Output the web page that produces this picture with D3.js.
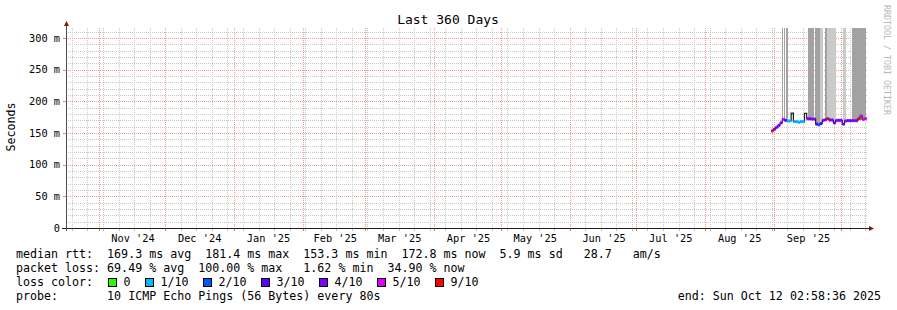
<!DOCTYPE html>
<html lang="en">
<head>
<meta charset="utf-8">
<title>Last 360 Days</title>
<script src="https://cdn.jsdelivr.net/npm/d3@7"></script>
<style>
  body { margin: 0; background: #fff; }
  svg text { font-family: "DejaVu Sans Mono", monospace; fill: #000; }
</style>
</head>
<body>
<svg id="chart" width="897" height="310"></svg>
<script>
// ---------------- data ----------------
// graph spans 360 days, aligned to the archive step; endTime is the printed end
var axisStart = "2024-10-17T19:00";
var axisEnd   = "2025-10-12T19:00";
var endTime   = "2025-10-12T02:58:36";

var yTicks      = [0, 50, 100, 150, 200, 250, 300];
var yTickLabels = ["0", "50 m", "100 m", "150 m", "200 m", "250 m", "300 m"];
var yMax = 315.8; // ms, upper limit of the graph

// month labels sit mid-month
var xLabelDates = ["2024-11-16", "2024-12-16", "2025-01-16", "2025-02-15", "2025-03-16",
                   "2025-04-16", "2025-05-16", "2025-06-16", "2025-07-16", "2025-08-16", "2025-09-16"];

// daily median rtt (ms) and loss (pings of 10)
var firstDay = "2025-08-30T16:00";
var medianMs = [153.3, 156, 159, 162, 166, 171.6, 170, 169, 169, 181.4,
                168, 168, 167, 168, 168, 181, 172.5, 172.5, 172, 172,
                164, 163, 165, 170, 171, 172.6, 170.5, 170.5, 166, 170,
                170, 170, 164, 169, 169.5, 169.5, 169.5, 169.5, 169.5, 172.6,
                177, 171.6, 172.8];
var lossTenths = [9, 4, 4, 4, 4, 5, 3, 1, 1, null,
                  1, 1, 1, 1, 1, null, 4, 4, 4, 4,
                  3, 2, 3, 4, 4, 9, 4, 4, 3, 4,
                  4, 4, 3, 4, 4, 4, 4, 4, 4, 9,
                  5, 5, 5];

// smoke (ping spread) periods, reaching past the top of the graph
var smokeStart = ["2025-09-04T13:00", "2025-09-05T11:00", "2025-09-06T08:00", "2025-09-16T06:00",
                  "2025-09-19T09:00", "2025-09-21T16:00", "2025-09-23T21:00", "2025-09-24T19:00",
                  "2025-10-02T00:00", "2025-10-06T01:00"];
var smokeEnd   = ["2025-09-05T00:00", "2025-09-05T21:00", "2025-09-07T06:00", "2025-09-18T23:00",
                  "2025-09-21T16:00", "2025-09-23T00:00", "2025-09-24T19:00", "2025-09-28T20:00",
                  "2025-10-03T08:00", "2025-10-12T09:00"];
var smokeLow   = [171, 171, 170, 172, 164, 168, 171, 170, 169, 170];
var smokeHigh  = [400, 400, 400, 400, 400, 400, 400, 400, 400, 400];
var smokeDepth = [6, 6, 6, 6, 6, 3, 6, 3, 3, 6]; // pings in the upper smoke

var lossLevels = [0, 1, 2, 3, 4, 5, 9];
var lossLabels = ["0", "1/10", "2/10", "3/10", "4/10", "5/10", "9/10"];
var lossColors = ["#26ff00", "#00b8ff", "#0059ff", "#5e00ff", "#7e00ff", "#dd00ff", "#ff0000"];

var legendRtt  = "median rtt:  169.3 ms avg  181.4 ms max  153.3 ms min  172.8 ms now  5.9 ms sd   28.7   am/s";
var legendLoss = "packet loss: 69.49 % avg  100.00 % max   1.62 % min  34.90 % now";
var probeText  = "10 ICMP Echo Pings (56 Bytes) every 80s";

// ---------------- chart ----------------
(function() {
var svg = d3.select("#chart");
var pLeft = 67, pRight = 867, pTop = 28, pBottom = 228;
var nb = function(s) { return s.replace(/ /g, "\u00a0"); }; // keep runs of spaces

var t0 = new Date(axisStart), t1 = new Date(axisEnd);
var x = d3.scaleTime().domain([t0, t1]).range([pLeft, pRight]);
var y = d3.scaleLinear().domain([0, yMax]).range([pBottom, pTop]);
var px = function(v) { return Math.round(v); };

var lossColor = d3.scaleThreshold().domain(lossLevels.slice(1)).range(lossColors);
var smokeColor = d3.scaleThreshold().domain([5]).range(["#cacaca", "#a2a2a2"]);

svg.append("rect").attr("width", 897).attr("height", 310).attr("fill", "#fff");

svg.append("clipPath").attr("id", "plot")
  .append("rect").attr("x", pLeft).attr("y", pTop).attr("width", pRight - pLeft).attr("height", pBottom - pTop);

// grid, drawn as rows of 1px dots
var months = d3.timeMonth.range(t0, t1);
var monthKeys = months.map(function(d) { return +d; });
var weeks = d3.timeSunday.range(t0, t1).filter(function(d) { return monthKeys.indexOf(+d) < 0; });
var minorY = d3.range(10, yMax, 10).filter(function(v) { return v % 50 !== 0; });
var minorCol = "#c8c8c8", majorCol = "#f39a9a";

var defs = svg.append("defs");
defs.append("pattern").attr("id", "vdots").attr("width", 1).attr("height", 2)
  .attr("patternUnits", "userSpaceOnUse")
  .append("rect").attr("width", 1).attr("height", 1).attr("fill", "#000");

function vGrid(data, col) {
  svg.append("g").selectAll("rect").data(data).enter().append("rect")
    .attr("x", function(d) { return px(x(d)); }).attr("y", pTop)
    .attr("width", 1).attr("height", pBottom - pTop)
    .attr("fill", col).attr("mask", "url(#vmask)");
}
function hGrid(data, col) {
  svg.append("g").selectAll("rect").data(data).enter().append("rect")
    .attr("x", pLeft).attr("y", function(d) { return px(y(d)); })
    .attr("width", pRight - pLeft).attr("height", 1)
    .attr("fill", col).attr("mask", "url(#hmask)");
}
// dotted masks (1 on, 1 off)
var vm = defs.append("mask").attr("id", "vmask").attr("maskUnits", "userSpaceOnUse")
  .attr("x", 0).attr("y", 0).attr("width", 897).attr("height", 310);
var hm = defs.append("mask").attr("id", "hmask").attr("maskUnits", "userSpaceOnUse")
  .attr("x", 0).attr("y", 0).attr("width", 897).attr("height", 310);
defs.append("pattern").attr("id", "vp").attr("width", 897).attr("height", 2)
  .attr("patternUnits", "userSpaceOnUse")
  .append("rect").attr("width", 897).attr("height", 1).attr("fill", "#fff");
defs.append("pattern").attr("id", "hp").attr("width", 2).attr("height", 310)
  .attr("patternUnits", "userSpaceOnUse")
  .append("rect").attr("width", 1).attr("height", 310).attr("fill", "#fff");
vm.append("rect").attr("width", 897).attr("height", 310).attr("fill", "url(#vp)");
hm.append("rect").attr("width", 897).attr("height", 310).attr("fill", "url(#hp)");

vGrid(weeks, minorCol);
hGrid(minorY, minorCol);
vGrid(months, majorCol);
hGrid(yTicks.slice(1), majorCol);

// tick marks on the axes
var ticks = svg.append("g").attr("shape-rendering", "crispEdges");
ticks.selectAll(".tw").data(weeks).enter().append("rect")
  .attr("x", function(d) { return px(x(d)); }).attr("y", pBottom + 1)
  .attr("width", 1).attr("height", 2).attr("fill", minorCol);
ticks.selectAll(".tm").data(months).enter().append("rect")
  .attr("x", function(d) { return px(x(d)); }).attr("y", pBottom + 1)
  .attr("width", 1).attr("height", 2).attr("fill", "#f07070");
ticks.selectAll(".ty").data(yTicks.slice(1)).enter().append("rect")
  .attr("x", pLeft - 4).attr("y", function(d) { return px(y(d)); })
  .attr("width", 4).attr("height", 1).attr("fill", "#e08a8a");

// smoke
var plot = svg.append("g").attr("clip-path", "url(#plot)");
plot.selectAll(".smoke").data(smokeStart).enter().append("rect")
  .attr("x", function(d) { return x(new Date(d)); })
  .attr("width", function(d, i) { return Math.max(1, x(new Date(smokeEnd[i])) - x(new Date(d))); })
  .attr("y", function(d, i) { return y(smokeHigh[i]); })
  .attr("height", function(d, i) { return y(smokeLow[i]) - y(smokeHigh[i]); })
  .attr("fill", function(d, i) { return smokeColor(smokeDepth[i]); })
  .attr("shape-rendering", "crispEdges");

// median: dark step line + loss-coloured bands
var day0 = new Date(firstDay);
var pts = medianMs.map(function(v, i) {
  return { t: d3.timeDay.offset(day0, i), t2: d3.timeDay.offset(day0, i + 1), v: v, loss: lossTenths[i] };
});
var stepLine = d3.line().curve(d3.curveStepAfter)
  .x(function(d) { return x(d.t); }).y(function(d) { return y(d.v); });
plot.append("path")
  .datum(pts.concat([{ t: pts[pts.length - 1].t2, v: pts[pts.length - 1].v }]))
  .attr("d", stepLine).attr("fill", "none").attr("stroke", "#202020").attr("stroke-width", 1.2);

plot.selectAll(".band").data(pts.filter(function(d) { return d.loss !== null; })).enter().append("rect")
  .attr("x", function(d) { return x(d.t); })
  .attr("width", function(d) { return x(d.t2) - x(d.t); })
  .attr("y", function(d) { return y(d.v) - 1.5; })
  .attr("height", 3)
  .attr("fill", function(d) { return lossColor(d.loss); });

// axes
var axisCol = "#202020", arrowCol = "#8b1010";
svg.append("line").attr("x1", pLeft - 5).attr("x2", pRight + 2)
  .attr("y1", pBottom + 0.5).attr("y2", pBottom + 0.5).attr("stroke", axisCol);
svg.append("line").attr("x1", pLeft - 0.5).attr("x2", pLeft - 0.5)
  .attr("y1", pTop - 2).attr("y2", pBottom + 3).attr("stroke", "#505050");
svg.append("path").attr("d", "M" + (pRight + 2) + "," + (pBottom - 2) + "L" + (pRight + 7) + "," + (pBottom + 0.5) + "L" + (pRight + 2) + "," + (pBottom + 3) + "Z")
  .attr("fill", arrowCol);
svg.append("path").attr("d", "M" + (pLeft - 3) + "," + (pTop - 2) + "L" + (pLeft - 0.5) + "," + (pTop - 7) + "L" + (pLeft + 2) + "," + (pTop - 2) + "Z")
  .attr("fill", arrowCol);

// axis labels
svg.append("g").selectAll("text").data(yTicks).enter().append("text")
  .attr("x", 60).attr("y", function(d) { return y(d) + 3.5; })
  .attr("text-anchor", "end").attr("font-size", "10.3px")
  .text(function(d, i) { return nb(yTickLabels[i]); });

var fmtMonth = d3.timeFormat("%b '%y");
svg.append("g").selectAll("text").data(xLabelDates).enter().append("text")
  .attr("x", function(d) { return x(new Date(d + "T12:00")); }).attr("y", 241.5)
  .attr("text-anchor", "middle").attr("font-size", "10.3px")
  .text(function(d) { return nb(fmtMonth(new Date(d + "T12:00"))); });

svg.append("text").attr("x", 448).attr("y", 24).attr("text-anchor", "middle")
  .attr("font-size", "13px").text(nb("Last 360 Days"));

svg.append("text").attr("transform", "translate(15,127) rotate(-90)")
  .attr("text-anchor", "middle").attr("font-size", "11.6px").text("Seconds");

svg.append("text").attr("transform", "translate(884,5) rotate(90)")
  .attr("font-size", "8.3px").style("fill", "#b8b8b8").text(nb("RRDTOOL / TOBI OETIKER"));

// legend
var lg = svg.append("g").attr("font-size", "11.65px");
lg.append("text").attr("x", 16).attr("y", 258).text(nb(legendRtt));
lg.append("text").attr("x", 16).attr("y", 272).text(nb(legendLoss));
lg.append("text").attr("x", 16).attr("y", 286).text(nb("loss color:"));
lg.append("text").attr("x", 16).attr("y", 300).text(nb("probe:       " + probeText));

var fmtEnd = d3.timeFormat("%a %b %d %H:%M:%S %Y");
lg.append("text").attr("x", 881).attr("y", 300).attr("text-anchor", "end")
  .text(nb("end: " + fmtEnd(new Date(endTime))));

var cursor = 108.5;
lossLabels.forEach(function(lab, i) {
  lg.append("rect").attr("x", cursor).attr("y", 278.5).attr("width", 8).attr("height", 8)
    .attr("fill", lossColors[i]).attr("stroke", "#000").attr("stroke-width", 1);
  lg.append("text").attr("x", cursor + 15).attr("y", 286).text(nb(lab));
  cursor += 15 + lab.length * 7 + 15;
});
})();
</script>
</body>
</html>
